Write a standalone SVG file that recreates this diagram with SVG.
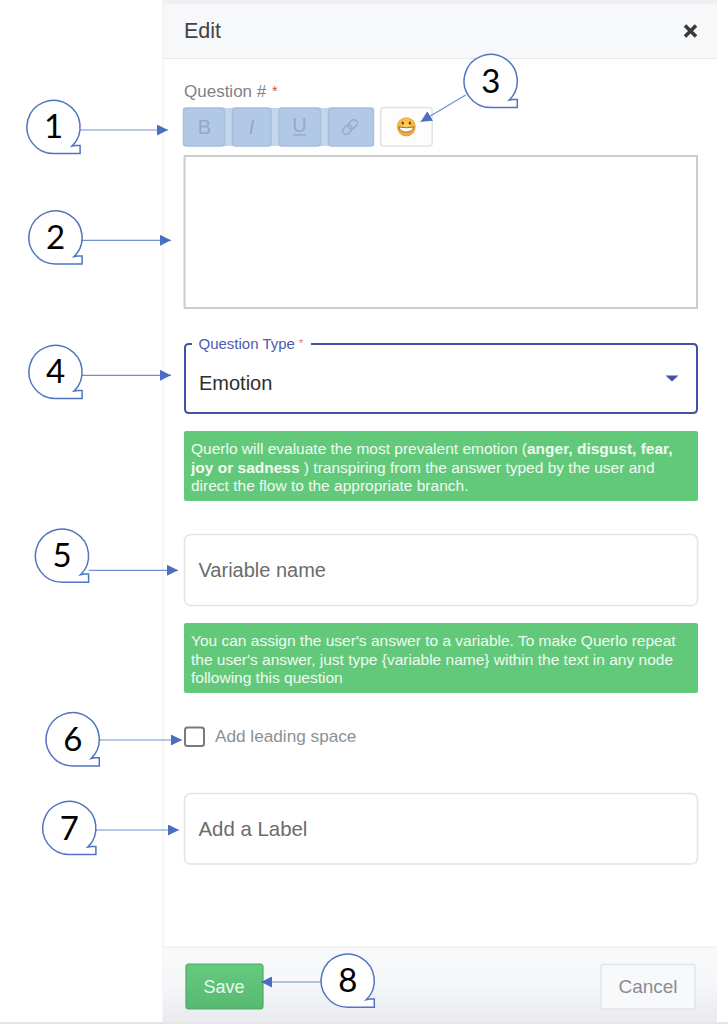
<svg xmlns="http://www.w3.org/2000/svg" width="728" height="1024" viewBox="0 0 728 1024">
<style>
text{font-family:"Liberation Sans",Arial,sans-serif}
.num{font-family:"Lato","Open Sans",sans-serif;font-size:33px;fill:#000;text-anchor:middle}
.bub{fill:#fff;stroke:#4f74c0;stroke-width:1.5}
.conn{stroke:#6f8fd0;stroke-width:1.2;fill:none}
.tb{fill:#b1c9e6;stroke:#a5bedd;stroke-width:1.500}
.ico{fill:#93aac4;font-size:20px;text-anchor:middle}
.inp{fill:#fff;stroke:#e4e4e4;stroke-width:1.6}
.green{fill:#63c97a}
.gt{fill:#f0faf2;font-size:15.5px}
.ph{fill:#6b6b6b;font-size:20px}
</style>
<defs>
<path id="bubble" class="bub" d="M0 26.6A26.6 26.6 0 1 1 18.5 19.1L22 18.4H26.6V26.6Z"/>
<marker id="ah" markerUnits="userSpaceOnUse" markerWidth="11" markerHeight="11" refX="11" refY="5.5" orient="auto"><path d="M0 0L11 5.5L0 11Z" fill="#4a6fc0"/></marker>
<linearGradient id="foot" x1="0" y1="0" x2="0" y2="1"><stop offset="0" stop-color="#f8f9fb"/><stop offset="0.5" stop-color="#f6f7f9"/><stop offset="1" stop-color="#e9eaee"/></linearGradient>
<linearGradient id="savefill" x1="0" y1="0" x2="0" y2="1"><stop offset="0" stop-color="#65c97e"/><stop offset="1" stop-color="#58ba72"/></linearGradient>
<radialGradient id="emo" cx="0.5" cy="0.4" r="0.6"><stop offset="0" stop-color="#fdd668"/><stop offset="1" stop-color="#eea02e"/></radialGradient>
</defs>
<rect width="728" height="1024" fill="#fff"/>
<g id="panel">
<rect x="163" y="0" width="554" height="4" fill="#f0f0f3"/>
<rect x="163" y="4" width="554" height="54" fill="#f7f8fa"/>
<line x1="163" y1="58.500" x2="717" y2="58.500" stroke="#e8e9ec"/>
<line x1="163" y1="0" x2="163" y2="1022" stroke="#ebedf0"/>
<text x="184" y="37.500" font-size="21.500" fill="#444">Edit</text>
<path d="M685 25.500L696 36.500M696 25.500L685 36.500" stroke="#3a3a3a" stroke-width="3.600" fill="none"/>
<rect x="163" y="947" width="554" height="75" fill="url(#foot)"/>
<line x1="163" y1="947" x2="717" y2="947" stroke="#ebecef"/>
<rect x="0" y="1022" width="728" height="2" fill="#e6e6e6"/>
</g>
<g id="toolbar">
<text x="184" y="97" font-size="17" fill="#7d8389">Question #</text>
<text x="272" y="96" font-size="14" fill="#e0453a">*</text>
<rect x="183" y="108" width="191" height="38" fill="#c3d6ec"/>
<rect class="tb" x="183.500" y="108" width="41" height="38" rx="3"/>
<rect class="tb" x="232.500" y="108" width="38.500" height="38" rx="3"/>
<rect class="tb" x="279" y="108" width="41.500" height="38" rx="3"/>
<rect class="tb" x="328.500" y="108" width="45" height="38" rx="3"/>
<text class="ico" x="204.500" y="134">B</text>
<text class="ico" x="251.500" y="134" font-style="italic" font-family="Liberation Serif,serif">I</text>
<text class="ico" x="299.500" y="132">U</text>
<line x1="293" y1="135" x2="306" y2="135" stroke="#93aac4" stroke-width="1.300"/>
<g transform="rotate(-45 350 127)" fill="none" stroke="#93aac4" stroke-width="1.400">
<rect x="341" y="123.500" width="10.500" height="7" rx="3.500"/>
<rect x="348.500" y="123.500" width="10.500" height="7" rx="3.500"/>
</g>
<rect x="380.700" y="107.500" width="51.500" height="38.500" rx="3" fill="#fdfdfe" stroke="#dfe3ea" stroke-width="1.600"/>
<circle cx="406.300" cy="126.700" r="9.500" fill="url(#emo)"/>
<ellipse cx="402.800" cy="123" rx="1.100" ry="1.500" fill="#5b3a12"/>
<ellipse cx="409.800" cy="123" rx="1.100" ry="1.500" fill="#5b3a12"/>
<path d="M399 127Q406.300 128.500 413.600 127Q412.500 132 406.300 132Q400.100 132 399 127Z" fill="#fff" stroke="#6b4415" stroke-width="0.700"/>
</g>
<g id="textarea">
<rect x="184.500" y="156" width="512.500" height="152" fill="#fff" stroke="#cccccc" stroke-width="2"/>
</g>
<g id="question-type">
<path d="M192 344H189Q185 344 185 348V409Q185 413 189 413H693Q697 413 697 409V348Q697 344 693 344H311" fill="#fff" stroke="#3f51a8" stroke-width="2"/>
<text x="198.500" y="349" font-size="15" fill="#4c5bb3">Question Type</text>
<text x="299" y="347" font-size="11" fill="#ef6a80">*</text>
<text x="199" y="390" font-size="20" fill="#2e2e2e">Emotion</text>
<path d="M665.500 375.500H678.500L672 381.500Z" fill="#3f51a8"/>
</g>
<g id="hint-emotion">
<rect class="green" x="184" y="431" width="514" height="70" rx="2"/>
<text class="gt" x="191" y="454">Querlo will evaluate the most prevalent emotion (<tspan font-weight="bold">anger, disgust, fear,</tspan></text>
<text class="gt" x="191" y="473"><tspan font-weight="bold">joy or sadness</tspan> ) transpiring from the answer typed by the user and</text>
<text class="gt" x="191" y="491">direct the flow to the appropriate branch.</text>
</g>
<g id="variable-name">
<rect class="inp" x="184.500" y="534.500" width="513" height="71" rx="6"/>
<text class="ph" x="198.500" y="577">Variable name</text>
</g>
<g id="hint-variable">
<rect class="green" x="184" y="623" width="514" height="70" rx="2"/>
<text class="gt" x="191" y="646">You can assign the user's answer to a variable. To make Querlo repeat</text>
<text class="gt" x="191" y="664.500">the user's answer, just type {variable name} within the text in any node</text>
<text class="gt" x="191" y="682.500">following this question</text>
</g>
<g id="leading-space">
<rect x="185" y="727.500" width="19" height="18.500" rx="2.500" fill="#fff" stroke="#7a7a7a" stroke-width="2"/>
<text x="215" y="742" font-size="17.200" fill="#8b9095">Add leading space</text>
</g>
<g id="label">
<rect class="inp" x="184.500" y="793.500" width="513" height="70.500" rx="6"/>
<text class="ph" x="198.500" y="836" style="font-size:20.400px">Add a Label</text>
</g>
<g id="save">
<rect x="186" y="964" width="77" height="45" rx="3" fill="url(#savefill)" stroke="#4fa968" stroke-width="1.200"/>
<text x="224" y="993" font-size="18" fill="#e8f8ec" text-anchor="middle">Save</text>
</g>
<g id="cancel">
<rect x="601" y="964.500" width="94" height="44.500" rx="3" fill="#f8f9fb" stroke="#e3e5ea" stroke-width="1.600"/>
<text x="648" y="993" font-size="19" fill="#868c92" text-anchor="middle">Cancel</text>
</g>
<g id="connectors">
<line class="conn" x1="80" y1="130" x2="168" y2="130" marker-end="url(#ah)"/>
<line class="conn" x1="82" y1="240.300" x2="171" y2="240.300" marker-end="url(#ah)"/>
<line class="conn" x1="465.700" y1="95" x2="420.700" y2="121.700" marker-end="url(#ah)"/>
<line class="conn" x1="82" y1="375.300" x2="171" y2="375.300" marker-end="url(#ah)"/>
<line class="conn" x1="88.700" y1="570.300" x2="178" y2="570.300" marker-end="url(#ah)"/>
<line class="conn" x1="93" y1="740" x2="182" y2="740" marker-end="url(#ah)"/>
<line class="conn" x1="90" y1="830" x2="179" y2="830" marker-end="url(#ah)"/>
<line class="conn" x1="321" y1="982" x2="261" y2="982" marker-end="url(#ah)"/>
</g>
<g id="callout-1"><use href="#bubble" x="53.500" y="127"/><text class="num" x="53.500" y="138">1</text></g>
<g id="callout-2"><use href="#bubble" x="55.500" y="237.500"/><text class="num" x="55.500" y="248.500">2</text></g>
<g id="callout-3"><use href="#bubble" x="490.700" y="81"/><text class="num" x="490.700" y="93">3</text></g>
<g id="callout-4"><use href="#bubble" x="55.500" y="372"/><text class="num" x="55.500" y="383">4</text></g>
<g id="callout-5"><use href="#bubble" x="62" y="555.700"/><text class="num" x="62" y="566.500">5</text></g>
<g id="callout-6"><use href="#bubble" x="72.700" y="739.300"/><text class="num" x="72.700" y="751">6</text></g>
<g id="callout-7"><use href="#bubble" x="69.300" y="828"/><text class="num" x="69.300" y="839.500">7</text></g>
<g id="callout-8"><use href="#bubble" x="347.700" y="980.700"/><text class="num" x="347.700" y="992">8</text></g>
</svg>
